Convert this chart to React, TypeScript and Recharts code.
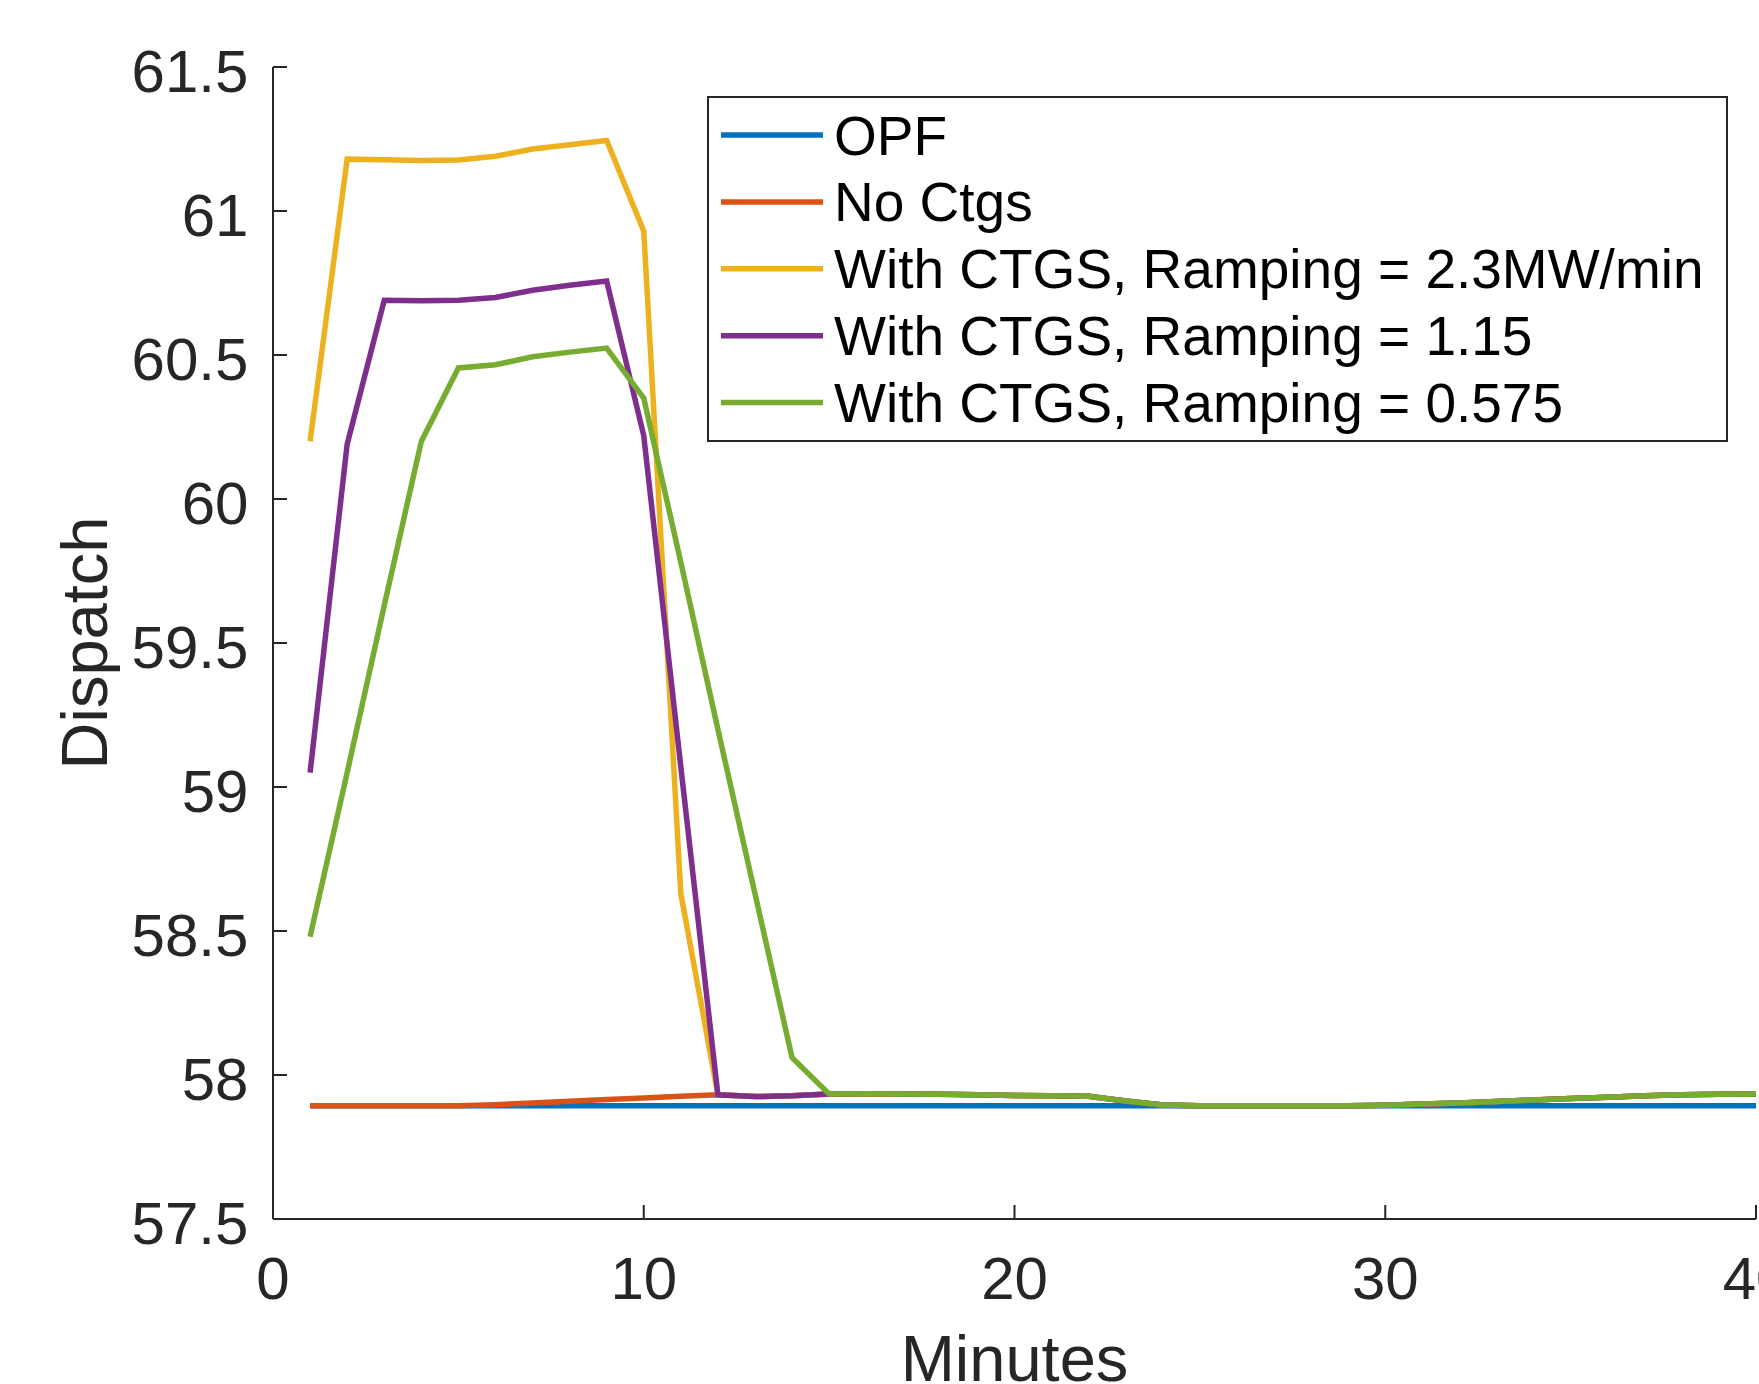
import React from 'react';
import { LineChart, Line, XAxis, YAxis, Legend, Label } from 'recharts';

const minutes = [
  1, 2, 3, 4, 5, 6, 7, 8, 9, 10, 11, 12, 13, 14, 15, 16, 17, 18, 19, 20,
  21, 22, 23, 24, 25, 26, 27, 28, 29, 30, 31, 32, 33, 34, 35, 36, 37, 38, 39, 40,
];

const opf = [
  57.893, 57.893, 57.893, 57.893, 57.893, 57.893, 57.893, 57.893, 57.893, 57.893,
  57.893, 57.893, 57.893, 57.893, 57.893, 57.893, 57.893, 57.893, 57.893, 57.893,
  57.893, 57.893, 57.893, 57.893, 57.893, 57.893, 57.893, 57.893, 57.893, 57.893,
  57.893, 57.893, 57.893, 57.893, 57.893, 57.893, 57.893, 57.893, 57.893, 57.893,
];

const noCtgs = [
  57.893, 57.893, 57.893, 57.893, 57.893, 57.897, 57.903, 57.909, 57.915, 57.92,
  57.926, 57.931, 57.925, 57.928, 57.934, 57.935, 57.934, 57.933, 57.931, 57.929,
  57.928, 57.926, 57.91, 57.896, 57.893, 57.893, 57.893, 57.893, 57.893, 57.895,
  57.899, 57.903, 57.908, 57.913, 57.918, 57.923, 57.928, 57.931, 57.933, 57.934,
];

const ramp23 = [
  60.2, 61.18, 61.178, 61.175, 61.177, 61.19, 61.215, 61.23, 61.245, 60.93,
  58.63, 57.931, 57.925, 57.928, 57.934, 57.935, 57.934, 57.933, 57.931, 57.929,
  57.928, 57.926, 57.91, 57.896, 57.893, 57.893, 57.893, 57.893, 57.893, 57.895,
  57.899, 57.903, 57.908, 57.913, 57.918, 57.923, 57.928, 57.931, 57.933, 57.934,
];

const ramp115 = [
  59.05, 60.19, 60.69, 60.688, 60.69, 60.7, 60.725, 60.742, 60.757, 60.22,
  59.07, 57.931, 57.925, 57.928, 57.934, 57.935, 57.934, 57.933, 57.931, 57.929,
  57.928, 57.926, 57.91, 57.896, 57.893, 57.893, 57.893, 57.893, 57.893, 57.895,
  57.899, 57.903, 57.908, 57.913, 57.918, 57.923, 57.928, 57.931, 57.933, 57.934,
];

const ramp0575 = [
  58.48, 59.05, 59.63, 60.2, 60.455, 60.466, 60.494, 60.51, 60.524, 60.35,
  59.78, 59.2, 58.63, 58.06, 57.934, 57.935, 57.934, 57.933, 57.931, 57.929,
  57.928, 57.926, 57.91, 57.896, 57.893, 57.893, 57.893, 57.893, 57.893, 57.895,
  57.899, 57.903, 57.908, 57.913, 57.918, 57.923, 57.928, 57.931, 57.933, 57.934,
];

const seriesKeys = ['opf', 'noCtgs', 'ramp23', 'ramp115', 'ramp0575'];
const seriesNames = [
  'OPF',
  'No Ctgs',
  'With CTGS, Ramping = 2.3MW/min',
  'With CTGS, Ramping = 1.15',
  'With CTGS, Ramping = 0.575',
];
const seriesColors = ['#0072BD', '#D95319', '#EDB120', '#7E2F8E', '#77AC30'];

const xTicks = [0, 10, 20, 30, 40];
const yTicks = [57.5, 58, 58.5, 59, 59.5, 60, 60.5, 61, 61.5];

const data = minutes.map((m, i) => ({
  minute: m,
  opf: opf[i],
  noCtgs: noCtgs[i],
  ramp23: ramp23[i],
  ramp115: ramp115[i],
  ramp0575: ramp0575[i],
}));

const FONT = '"Liberation Sans", Arial, Helvetica, sans-serif';
const AXIS = '#262626';
const TICK_LEN = 14;

const BottomTick = ({ x, y, payload }: any) => (
  <g>
    <line x1={x} x2={x} y1={y} y2={y - TICK_LEN} stroke={AXIS} strokeWidth={2} />
    <text x={x} y={y + 80} textAnchor="middle" fontSize={60} fill={AXIS} fontFamily={FONT}>
      {payload.value}
    </text>
  </g>
);

const TopTick = ({ x, y }: any) => (
  <line x1={x} x2={x} y1={y} y2={y + TICK_LEN} stroke={AXIS} strokeWidth={2} />
);

const LeftTick = ({ x, y, payload }: any) => (
  <g>
    <line x1={x} x2={x + TICK_LEN} y1={y} y2={y} stroke={AXIS} strokeWidth={2} />
    <text x={x - 24.6} y={y + 25} textAnchor="end" fontSize={60} fill={AXIS} fontFamily={FONT}>
      {payload.value}
    </text>
  </g>
);

const RightTick = ({ x, y }: any) => (
  <line x1={x} x2={x - TICK_LEN} y1={y} y2={y} stroke={AXIS} strokeWidth={2} />
);

const XTitle = ({ viewBox }: any) => (
  <text
    x={viewBox.x + viewBox.width / 2}
    y={viewBox.y + 162}
    textAnchor="middle"
    fontSize={65}
    fill={AXIS}
    fontFamily={FONT}
  >
    Minutes
  </text>
);

const YTitle = ({ viewBox }: any) => {
  const cx = viewBox.x + 107;
  const cy = viewBox.y + viewBox.height / 2;
  return (
    <text
      x={cx}
      y={cy}
      transform={`rotate(-90 ${cx} ${cy})`}
      textAnchor="middle"
      fontSize={65}
      fill={AXIS}
      fontFamily={FONT}
    >
      Dispatch
    </text>
  );
};

const LegendBox = () => (
  <svg width={1021} height={346} style={{ display: 'block' }}>
    <rect x={1} y={1} width={1019} height={344} fill="#ffffff" stroke={AXIS} strokeWidth={2} />
    {seriesNames.map((name, i) => {
      const cy = 39 + i * 66.9;
      return (
        <g key={name}>
          <line x1={14} x2={116} y1={cy} y2={cy} stroke={seriesColors[i]} strokeWidth={5.5} />
          <text x={127} y={cy + 19.5} fontSize={55} fill="#000" fontFamily={FONT}>
            {name}
          </text>
        </g>
      );
    })}
  </svg>
);

export default function App() {
  return (
    <div
      style={{
        position: 'absolute',
        left: 0,
        top: 0,
        width: 1759,
        height: 1384,
        background: '#ffffff',
        overflow: 'hidden',
      }}
    >
      <LineChart
        width={1759}
        height={1384}
        data={data}
        margin={{ top: 67, right: 3, bottom: 0, left: 0 }}
      >
        <XAxis
          dataKey="minute"
          type="number"
          domain={[0, 40]}
          ticks={xTicks}
          allowDataOverflow
          height={165}
          tickSize={0}
          tickMargin={0}
          tickLine={false}
          tick={<BottomTick />}
          axisLine={{ stroke: AXIS, strokeWidth: 2 }}
          interval={0}
        >
          <Label content={<XTitle />} />
        </XAxis>
        <XAxis
          xAxisId="top"
          orientation="top"
          dataKey="minute"
          type="number"
          domain={[0, 40]}
          ticks={xTicks}
          allowDataOverflow
          height={0}
          tickSize={0}
          tickMargin={0}
          tickLine={false}
          tick={<TopTick />}
          axisLine={{ stroke: AXIS, strokeWidth: 2 }}
          interval={0}
        />
        <YAxis
          type="number"
          domain={[57.5, 61.5]}
          ticks={yTicks}
          allowDataOverflow
          width={273}
          tickSize={0}
          tickMargin={0}
          tickLine={false}
          tick={<LeftTick />}
          axisLine={{ stroke: AXIS, strokeWidth: 2 }}
          interval={0}
        >
          <Label content={<YTitle />} />
        </YAxis>
        <YAxis
          yAxisId="right"
          orientation="right"
          type="number"
          domain={[57.5, 61.5]}
          ticks={yTicks}
          allowDataOverflow
          width={0}
          tickSize={0}
          tickMargin={0}
          tickLine={false}
          tick={<RightTick />}
          axisLine={{ stroke: AXIS, strokeWidth: 2 }}
          interval={0}
        />
        {seriesKeys.map((key, i) => (
          <Line
            key={key}
            dataKey={key}
            name={seriesNames[i]}
            type="linear"
            stroke={seriesColors[i]}
            strokeWidth={5.5}
            dot={false}
            activeDot={false}
            isAnimationActive={false}
          />
        ))}
        <Legend
          layout="horizontal"
          verticalAlign="middle"
          align="center"
          content={<LegendBox />}
          wrapperStyle={{ left: 707, top: 96, width: 1021, height: 346 }}
        />
      </LineChart>
    </div>
  );
}
